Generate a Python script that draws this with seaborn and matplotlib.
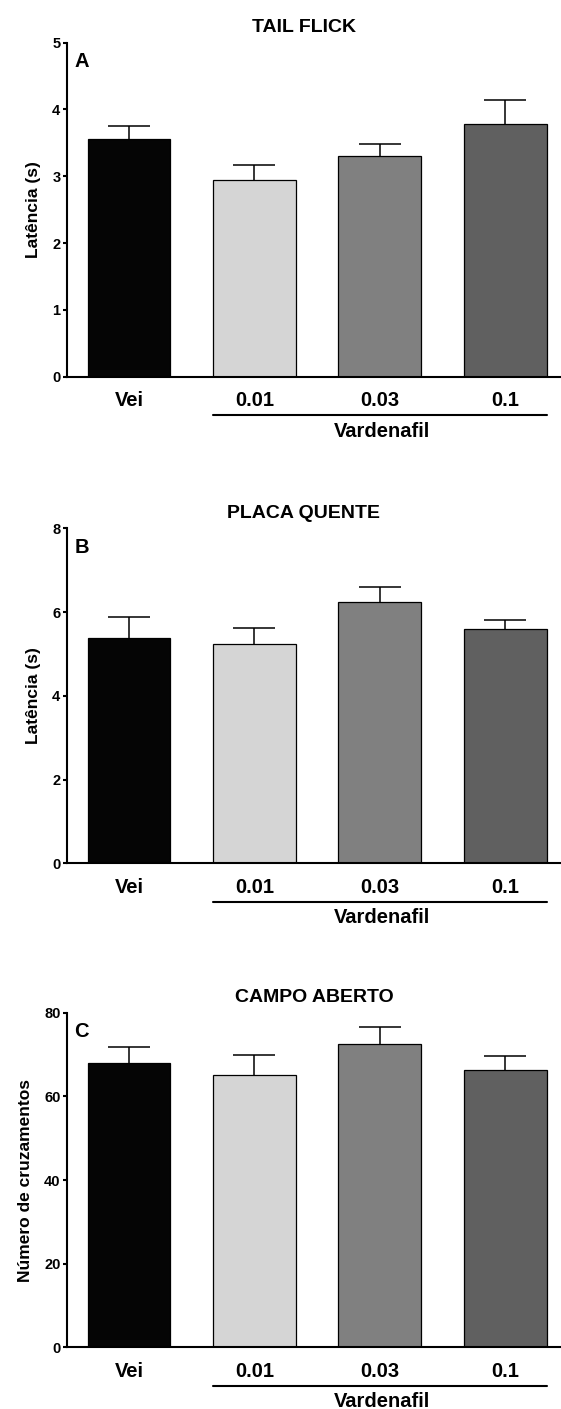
import matplotlib
matplotlib.use("Agg")
import matplotlib.pyplot as plt
import seaborn as sns
import numpy as np

# ---- data ----
groups = ["Vei", "0.01", "0.03", "0.1"]
bar_colors = ["#050505", "#d5d5d5", "#808080", "#606060"]

tail_mean = [3.56, 2.94, 3.31, 3.78]
tail_sem = [0.19, 0.23, 0.17, 0.36]

placa_mean = [5.37, 5.23, 6.23, 5.59]
placa_sem = [0.50, 0.40, 0.36, 0.22]

campo_mean = [68.0, 65.1, 72.6, 66.2]
campo_sem = [3.9, 4.8, 4.1, 3.4]

titles = ["TAIL FLICK", "PLACA QUENTE", "CAMPO ABERTO"]
letters = ["A", "B", "C"]
ylabels = ["Latência (s)", "Latência (s)", "Número de cruzamentos"]
yticks_list = [[0, 1, 2, 3, 4, 5], [0, 2, 4, 6, 8], [0, 20, 40, 60, 80]]
group_label = "Vardenafil"

sns.set_theme(style="ticks")
plt.rcParams["font.family"] = ["Liberation Sans", "DejaVu Sans"]
plt.rcParams["font.weight"] = "bold"

W, H = 561, 1409
fig = plt.figure(figsize=(W / 100, H / 100), dpi=100)

# axes placement in pixels (top, bottom)
panels_px = [(42.7, 376.7), (528.3, 863.3), (1012.7, 1347.3)]
left_px = 66.7
title_x = [0.48, 0.48, 0.502]

means = [tail_mean, placa_mean, campo_mean]
sems = [tail_sem, placa_sem, campo_sem]
bar_w = 0.66

for i in range(3):
    top, bot = panels_px[i]
    ax = fig.add_axes([left_px / W, 1 - bot / H, 1 - left_px / W, (bot - top) / H])
    sns.barplot(x=groups, y=means[i], hue=groups, palette=bar_colors,
                order=groups, hue_order=groups, legend=False,
                width=bar_w, edgecolor="black", linewidth=0.9, ax=ax,
                saturation=1)
    xs = np.arange(len(groups))
    eb = ax.errorbar(xs, means[i], yerr=[np.zeros(len(groups)), sems[i]],
                     fmt="none", ecolor="black", elinewidth=1.1, capsize=15.1,
                     capthick=1.1, zorder=3)
    # keep only the upper caps (one-sided SEM bars)
    caplines = eb[1]
    if len(caplines) >= 2:
        caplines[0].set_visible(False)
    yt = yticks_list[i]
    ax.set_ylim(yt[0], yt[-1])
    ax.set_yticks(yt)
    ax.set_xlim(-0.496, 3.444)
    sns.despine(ax=ax, top=True, right=True)
    for s in ["left", "bottom"]:
        ax.spines[s].set_linewidth(1.5)
        ax.spines[s].set_color("black")
    ax.tick_params(axis="y", length=3, width=1.5, pad=1.5, labelsize=10.5,
                   colors="black")
    ax.tick_params(axis="x", length=0, pad=10.5, labelsize=14.5, colors="black")
    for lab in ax.get_xticklabels() + ax.get_yticklabels():
        lab.set_fontweight("bold")
    ax.set_xlabel("")
    ax.set_ylabel(ylabels[i], fontsize=12.5, fontweight="bold", labelpad=8,
                  color="black")
    ax.set_title(titles[i], fontsize=14, fontweight="bold", pad=7.5,
                 x=title_x[i], color="black")
    ax.text(0.030, 0.943, letters[i], transform=ax.transAxes, ha="center",
            va="center", fontsize=14.5, fontweight="bold", color="black")
    # group underline + label
    trans = ax.get_xaxis_transform()
    ax.plot([1 - bar_w / 2, 3 + bar_w / 2], [-0.1150, -0.1150], transform=trans,
            color="black", lw=1.5, clip_on=False)
    ax.text(2.02, -0.163, group_label, transform=trans, ha="center", va="center",
            fontsize=14.5, fontweight="bold", color="black")

fig.savefig("out.png", dpi=100)
